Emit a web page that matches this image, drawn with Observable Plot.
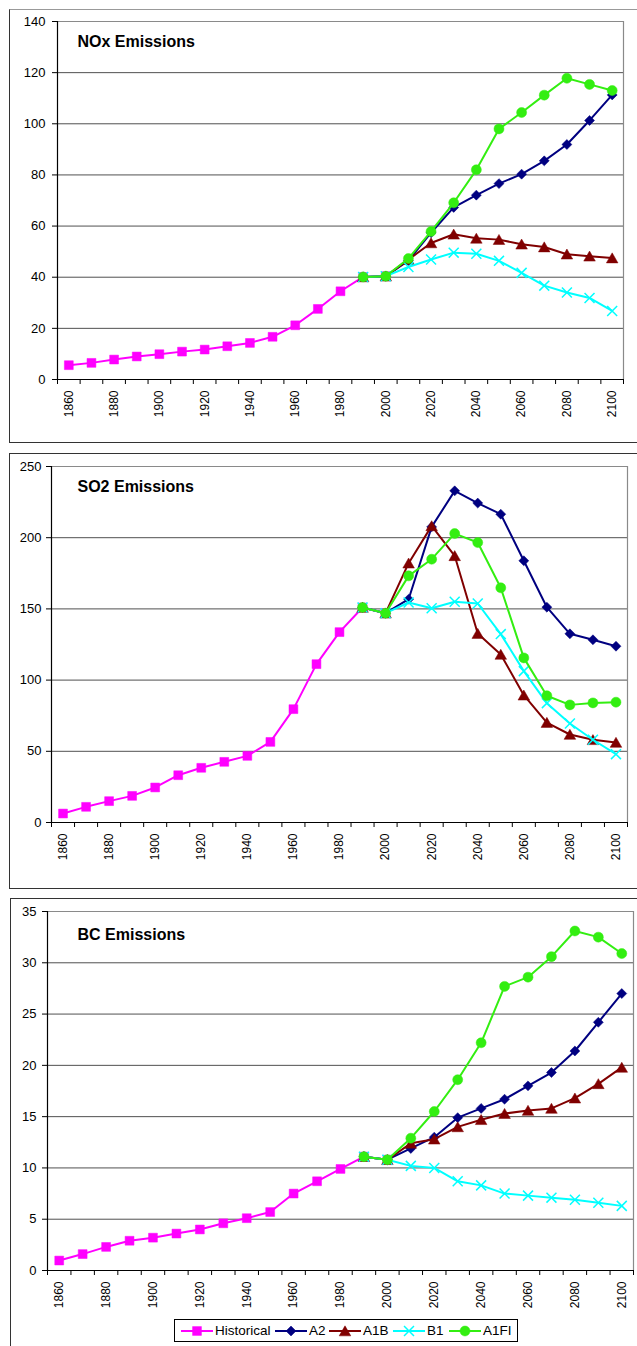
<!DOCTYPE html>
<html>
<head>
<meta charset="utf-8">
<script src="https://cdn.jsdelivr.net/npm/d3@7"></script>
<script src="https://cdn.jsdelivr.net/npm/@observablehq/plot@0.6"></script>
<style>
  html, body { margin: 0; padding: 0; background: #fff; }
  body { width: 637px; height: 1346px; position: relative; overflow: hidden;
         font-family: "Liberation Sans", Arial, sans-serif; }
  .frame { position: absolute; box-sizing: border-box; border: 1.5px solid #333; }
  .plotwrap { position: absolute; left: 0; }
  .plotwrap svg { display: block; overflow: visible; }
  #legend { position: absolute; left: 174px; top: 1319px; width: 344px; height: 23px;
            box-sizing: border-box; border: 1px solid #000; background: #fff; }
  .li { position: absolute; top: 0; height: 21px; display: flex; align-items: center;
        font-size: 13.5px; color: #000; white-space: nowrap; }
  .li svg { display: block; margin-right: 2px; }
</style>
</head>
<body>
<div class="frame" style="left:9px; top:9px; width:640px; height:434px; border-top-color:#999;"></div>
<div class="frame" style="left:9px; top:453px; width:640px; height:436px;"></div>
<div class="frame" style="left:10px; top:898px; width:640px; height:460px;"></div>
<div id="p1" class="plotwrap" style="top:0px"></div>
<div id="p2" class="plotwrap" style="top:444px"></div>
<div id="p3" class="plotwrap" style="top:890px"></div>
<div id="legend"></div>
<script>
// ---- Data ----
const histYears = [1860,1870,1880,1890,1900,1910,1920,1930,1940,1950,1960,1970,1980,1990,2000];
const scenYears = [1990,2000,2010,2020,2030,2040,2050,2060,2070,2080,2090,2100];
const labelYears = [1860,1880,1900,1920,1940,1960,1980,2000,2020,2040,2060,2080,2100];
const tickBounds = [1855,1865,1875,1885,1895,1905,1915,1925,1935,1945,1955,1965,1975,1985,1995,2005,2015,2025,2035,2045,2055,2065,2075,2085,2095,2105];
const seriesNames = ["Historical","A2","A1B","B1","A1FI"];

const noxHistorical = [5.6,6.5,7.8,9.0,9.9,10.9,11.7,13.0,14.3,16.7,21.2,27.6,34.5,40.1,40.4];
const noxA2   = [40.1,40.4,46.5,57.4,67.3,72.1,76.6,80.3,85.5,91.9,101.3,111.3];
const noxA1B  = [40.1,40.4,46.9,53.4,56.8,55.2,54.7,52.9,51.8,49.0,48.2,47.5];
const noxB1   = [40.1,40.4,44.0,46.9,49.6,49.2,46.4,41.7,36.7,34.0,31.9,26.8];
const noxA1FI = [40.1,40.4,47.3,57.9,69.1,82.0,98.0,104.4,111.2,117.8,115.4,113.0];

const so2Historical = [6.3,11.0,15.0,18.7,24.6,33.2,38.4,42.6,46.8,56.6,79.6,111.2,133.7,151,147];
const so2A2   = [151,147,156.8,207.6,232.9,224.3,216.5,183.8,151.2,132.5,128.3,123.8];
const so2A1B  = [151,147,182.1,208.3,187.3,132.7,118.0,89.4,70.2,61.8,58.1,56.2];
const so2B1   = [151,147,154.5,150.5,155.0,153.8,132.3,106.3,83.8,69.5,58.1,48.0];
const so2A1FI = [151,147,173.2,184.9,202.9,196.6,164.8,115.6,89.0,82.6,84.0,84.5];

const bcHistorical = [0.97,1.6,2.3,2.9,3.2,3.6,4.0,4.6,5.1,5.7,7.5,8.7,9.9,11.1,10.8];
const bcA2   = [11.1,10.8,11.9,13.0,14.9,15.8,16.7,18.0,19.3,21.4,24.2,27.0];
const bcA1B  = [11.1,10.8,12.4,12.8,14.0,14.7,15.3,15.6,15.8,16.8,18.2,19.8];
const bcB1   = [11.1,10.8,10.2,10.0,8.7,8.3,7.5,7.3,7.1,6.9,6.6,6.3];
const bcA1FI = [11.1,10.8,12.9,15.5,18.6,22.2,27.7,28.6,30.6,33.1,32.5,30.9];

// ---- Styles ----
const styles = {
  "Historical": {color: "#ff00ff", symbol: "square",   r: 5,   fill: true},
  "A2":         {color: "#000080", symbol: "diamond2", r: 4.5, fill: true},
  "A1B":        {color: "#800000", symbol: "triangle", r: 4.3, fill: true, dy: 1.5},
  "B1":         {color: "#00ffff", symbol: "times",    r: 4.6, fill: false},
  "A1FI":       {color: "#33ee11", symbol: "circle",   r: 5,   fill: true}
};

function rows(years, values) { return years.map((year, i) => ({year, value: values[i]})); }

function panel(el, cfg) {
  const yTicks = d3.range(0, cfg.yMax + 1e-9, cfg.yStep);
  const data = {
    "Historical": rows(histYears, cfg.hist),
    "A2": rows(scenYears, cfg.a2),
    "A1B": rows(scenYears, cfg.a1b),
    "B1": rows(scenYears, cfg.b1),
    "A1FI": rows(scenYears, cfg.a1fi)
  };
  const marks = [
    Plot.ruleY(yTicks.filter(v => v > 0 && v < cfg.yMax), {stroke: "#505050", strokeWidth: 1}),
    Plot.ruleY([cfg.yMax], {stroke: "#8a8a8a", strokeWidth: 1.2}),
    Plot.ruleX([2105], {stroke: "#8a8a8a", strokeWidth: 1.2}),
    Plot.ruleX([1855], {stroke: "#000", strokeWidth: 1.2}),
    Plot.ruleY([0], {stroke: "#000", strokeWidth: 1.2}),
    Plot.axisY({ticks: yTicks, tickSize: 5, tickPadding: cfg.yPad, fontSize: 13, label: null, tickFormat: d => String(d)}),
    Plot.axisX({ticks: tickBounds, tickSize: 5, label: null, tickFormat: () => ""}),
    Plot.axisX({ticks: labelYears, tickSize: 0, tickPadding: 11, tickRotate: -90, fontSize: 12, label: null, tickFormat: d => String(d)}),
    Plot.text([cfg.title], {frameAnchor: "top-left", dx: cfg.titleDx, dy: cfg.titleDy, fontSize: 16, fontWeight: "bold", fill: "#000"})
  ];
  for (const name of seriesNames) {
    const s = styles[name];
    marks.push(Plot.line(data[name], {x: "year", y: "value", stroke: s.color, strokeWidth: 2}));
    marks.push(Plot.dot(data[name], {
      x: "year", y: "value", symbol: () => s.symbol, r: s.r, dy: s.dy || 0,
      fill: s.fill ? s.color : "none", stroke: s.color, strokeWidth: s.fill ? 0.5 : 1.5
    }));
  }
  const chart = Plot.plot({
    width: 637,
    height: cfg.height,
    marginTop: cfg.mTop, marginBottom: cfg.mBottom, marginLeft: cfg.mLeft, marginRight: cfg.mRight,
    style: {fontFamily: '"Liberation Sans", Arial, sans-serif', background: "transparent", color: "#000"},
    x: {type: "linear", domain: [1855, 2105], label: null},
    y: {domain: [0, cfg.yMax], label: null},
    symbol: {type: "identity"},
    marks
  });
  document.getElementById(el).appendChild(chart);
}

panel("p1", {title: "NOx Emissions", hist: noxHistorical, a2: noxA2, a1b: noxA1B, b1: noxB1, a1fi: noxA1FI,
  yMax: 140, yStep: 20, height: 443, mTop: 21, mBottom: 64, mLeft: 57, mRight: 14, yPad: 7, titleDx: 20, titleDy: 14});
panel("p2", {title: "SO2 Emissions", hist: so2Historical, a2: so2A2, a1b: so2A1B, b1: so2B1, a1fi: so2A1FI,
  yMax: 250, yStep: 50, height: 444, mTop: 22, mBottom: 66, mLeft: 51, mRight: 10, yPad: 5, titleDx: 26, titleDy: 14});
panel("p3", {title: "BC Emissions", hist: bcHistorical, a2: bcA2, a1b: bcA1B, b1: bcB1, a1fi: bcA1FI,
  yMax: 35, yStep: 5, height: 456, mTop: 21, mBottom: 76, mLeft: 47, mRight: 4, yPad: 6, titleDx: 30, titleDy: 17});

// ---- Legend ----
const legendLeft = [6, 100, 154, 218, 274];
const legend = document.getElementById("legend");
seriesNames.forEach((name, i) => {
  const s = styles[name];
  const item = document.createElement("div");
  item.className = "li";
  item.style.left = legendLeft[i] + "px";
  const sym = d3.symbol().type({
    square: d3.symbolSquare, diamond2: d3.symbolDiamond2, triangle: d3.symbolTriangle,
    times: d3.symbolTimes, circle: d3.symbolCircle
  }[s.symbol]).size(Math.PI * s.r * s.r)();
  item.innerHTML = `<svg width="32" height="16" viewBox="0 0 32 16">
    <line x1="0" y1="8" x2="32" y2="8" stroke="${s.color}" stroke-width="2"/>
    <path d="${sym}" transform="translate(16,${8 + (s.dy || 0)})" fill="${s.fill ? s.color : "none"}" stroke="${s.color}" stroke-width="${s.fill ? 0.5 : 1.5}"/>
  </svg><span>${name}</span>`;
  legend.appendChild(item);
});
</script>
</body>
</html>
